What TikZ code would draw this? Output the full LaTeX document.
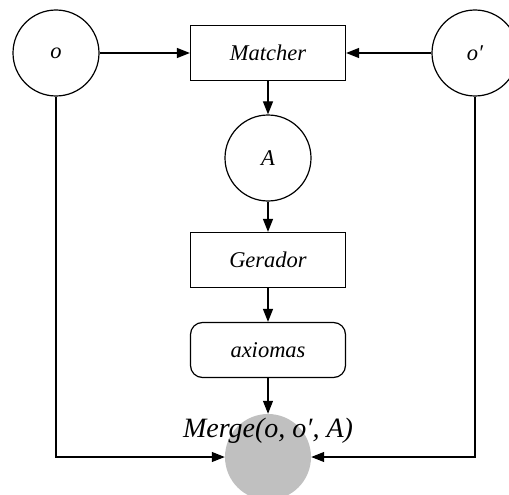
\documentclass[tikz,border=0pt]{standalone}
\usepackage{fontspec}
\setmainfont{Liberation Serif}
\usetikzlibrary{arrows.meta}
\begin{document}
\begin{tikzpicture}[x=1pt,y=-1pt,
  every node/.style={font=\itshape\fontsize{22.5}{24}\selectfont},
  lw/.style={line width=1.2pt},
  circ/.style={lw,draw,circle,minimum size=86pt,inner sep=0pt},
  box/.style={lw,draw,rectangle,minimum width=155pt,minimum height=55pt,inner sep=0pt},
  rbox/.style={box,rounded corners=12pt},
  conn/.style={lw,-{Triangle[length=13pt,width=10pt]}}]
\useasboundingbox (0,0) rectangle (509,495);
\node[circ] (o) at (56,53) {o};
\node[circ] (op) at (475,53) {o′};
\node[box] (m) at (268,53) {Matcher};
\node[circ] (a) at (268,158) {A};
\node[box] (g) at (268,260) {Gerador};
\node[rbox] (ax) at (268,350) {axiomas};
\node[circle,fill={rgb,255:red,192;green,192;blue,192},minimum size=86pt,inner sep=0pt] (mg) at (268,457) {};
\node[font=\itshape\fontsize{28}{30}\selectfont] (ml) at (268,431) {Merge(o, o′, A)};
\draw[conn] (o) -- (m);
\draw[conn] (op) -- (m);
\draw[conn] (m) -- (a);
\draw[conn] (a) -- (g);
\draw[conn] (g) -- (ax);
\draw[conn] (ax) -- (mg);
\draw[conn] (o.south) |- (mg.west);
\draw[conn] (op.south) |- (mg.east);
\end{tikzpicture}
\end{document}
